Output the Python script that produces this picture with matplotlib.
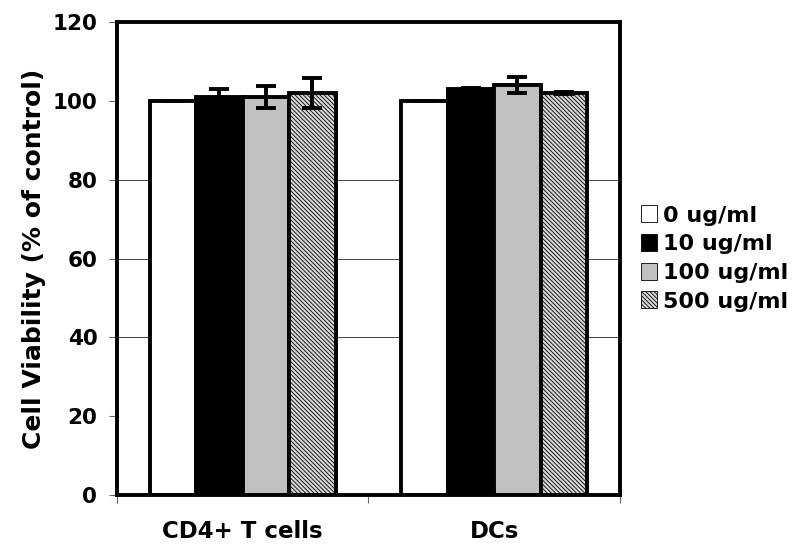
import numpy as np
import matplotlib
matplotlib.use("Agg")
import matplotlib.pyplot as plt
from matplotlib.patches import Patch

categories = ["CD4+ T cells", "DCs"]
series = ["0 ug/ml", "10 ug/ml", "100 ug/ml", "500 ug/ml"]
values = {
    "0 ug/ml":   [100.0, 100.0],
    "10 ug/ml":  [101.0, 103.0],
    "100 ug/ml": [101.0, 104.0],
    "500 ug/ml": [102.0, 102.0],
}
errors = {
    "0 ug/ml":   [0.0, 0.0],
    "10 ug/ml":  [2.0, 0.4],
    "100 ug/ml": [2.8, 2.1],
    "500 ug/ml": [3.8, 0.3],
}
yticks = [0, 20, 40, 60, 80, 100, 120]
gridlevels = [40, 60, 80]

fills = ["white", "black", "#c0c0c0", "#d8d8d8"]
hatches = [None, None, None, "\\\\\\\\\\\\\\\\"]

plt.rcParams["font.family"] = ["DejaVu Sans"]
plt.rcParams["font.weight"] = "bold"
plt.rcParams["hatch.linewidth"] = 0.6

fig = plt.figure(figsize=(8, 5.53), dpi=100)
ax = fig.add_axes([0.146, 0.105, 0.629, 0.855])

x = np.arange(len(categories))
w = 0.185
lw = 2.8
for i, s in enumerate(series):
    pos = x + (i - 1.5) * w
    ax.bar(pos, values[s], width=w, color=fills[i], edgecolor="black",
           hatch=hatches[i], linewidth=lw, zorder=3, label=s)
    ax.errorbar(pos, values[s], yerr=errors[s], fmt="none", ecolor="black",
                elinewidth=2.8, capsize=7, capthick=2.8, zorder=4)

for g in gridlevels:
    ax.axhline(g, color="#444444", linewidth=0.7, zorder=1)

ax.set_xlim(-0.5, 1.5)
ax.set_ylim(0, 120)
ax.set_yticks(yticks)
ax.set_yticklabels([str(t) for t in yticks], fontsize=15.5, fontweight="bold")

ax.set_xticks([-0.5, 0.5, 1.5])
ax.set_xticklabels([])
ax.set_xticks(x, minor=True)
ax.set_xticklabels(categories, minor=True, fontsize=16.5, fontweight="bold")
ax.tick_params(axis="x", which="minor", length=0, pad=18)
ax.tick_params(axis="x", which="major", length=6, width=0.8, color="#666666")
ax.tick_params(axis="y", length=6, width=0.8, color="#666666", pad=8)

for sp in ax.spines.values():
    sp.set_linewidth(lw)
    sp.set_zorder(5)

ax.set_ylabel("Cell Viability (% of control)", fontsize=18, fontweight="bold", labelpad=5)

handles = [Patch(facecolor=fills[i], edgecolor="black", hatch=hatches[i], linewidth=0.6)
           for i in range(len(series))]
leg = ax.legend(handles, series, loc="center left", bbox_to_anchor=(1.025, 0.50),
                frameon=False, fontsize=16, handlelength=0.7, handleheight=0.8,
                handletextpad=0.25, labelspacing=0.38, borderaxespad=0.0)
for t in leg.get_texts():
    t.set_fontweight("bold")

fig.savefig("out.png", dpi=100, facecolor="white")
